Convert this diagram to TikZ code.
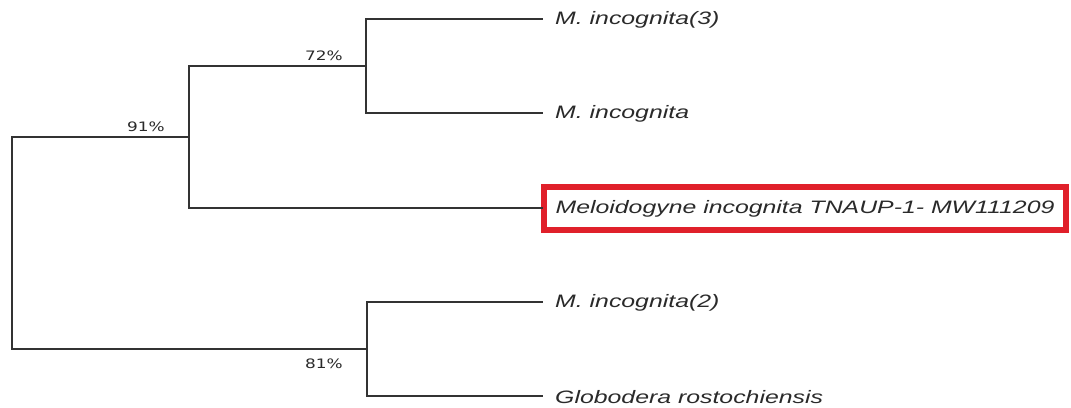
\documentclass[tikz,border=0pt]{standalone}
\usepackage{fontspec}
\newfontfamily\leaffont[FakeStretch=1.38]{Liberation Sans}
\newfontfamily\suppfont[FakeStretch=1.3]{DejaVu Sans}
\definecolor{linegray}{HTML}{333333}
\definecolor{textgray}{HTML}{2A2A2A}
\definecolor{boxred}{HTML}{E0202A}
\begin{document}
\begin{tikzpicture}[x=1pt,y=-1pt,
  branch/.style={draw=linegray,line width=1.4pt,line cap=rect},
  leaf/.style={anchor=west,inner sep=0pt,font=\leaffont\itshape\fontsize{18}{20}\selectfont,text=textgray},
  supp/.style={anchor=east,inner sep=0pt,font=\suppfont\fontsize{13}{15}\selectfont,text=textgray},
  hlbox/.style={draw=boxred,line width=6pt,fill=white,minimum width=522pt,minimum height=43pt,inner sep=0pt}]
\useasboundingbox[fill=white] (0,0) rectangle (1071,407);
% tree points
\coordinate (rt) at (12,137);
\coordinate (rb) at (12,349);
\coordinate (n91) at (189,137);
\coordinate (n91t) at (189,66);
\coordinate (n91b) at (189,208);
\coordinate (n72) at (366,66);
\coordinate (n72t) at (366,19);
\coordinate (n72b) at (366,113);
\coordinate (n81) at (367,349);
\coordinate (n81t) at (367,302);
\coordinate (n81b) at (367,396);
\coordinate (e1) at (542,19);
\coordinate (e2) at (542,113);
\coordinate (e3) at (542,208);
\coordinate (e4) at (542,302);
\coordinate (e5) at (542,396);
% highlight box with leaf 3
\node[hlbox] (box) at (805,208.5) {};
% leaves
\node[leaf] (L1) at (555,20) {M. incognita(3)};
\node[leaf] (L2) at (555,114) {M. incognita};
\node[leaf,anchor=center] (L3) at (box.center) {Meloidogyne incognita TNAUP-1- MW111209};
\node[leaf] (L4) at (555,303) {M. incognita(2)};
\node[leaf] (L5) at (555,397) {Globodera rostochiensis};
% branches
\draw[branch] (n91) -- (rt) -- (rb) -- (n81);
\draw[branch] (n72) -- (n91t) -- (n91b) -- (e3);
\draw[branch] (e1) -- (n72t) -- (n72b) -- (e2);
\draw[branch] (e4) -- (n81t) -- (n81b) -- (e5);
% support values
\node[supp] (s72) at (343,56) {72\%};
\node[supp] (s91) at (165,127) {91\%};
\node[supp] (s81) at (343,364) {81\%};
\end{tikzpicture}
\end{document}
